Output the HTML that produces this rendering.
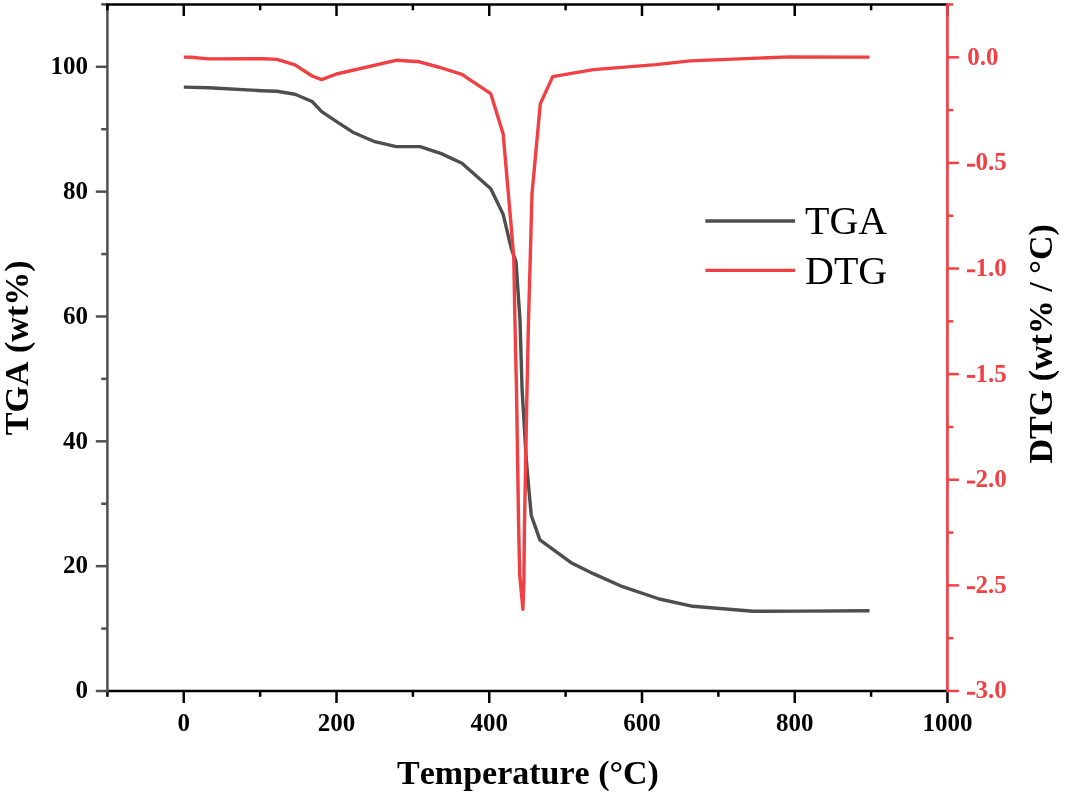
<!DOCTYPE html>
<html><head><meta charset="utf-8"><style>
html,body{margin:0;padding:0;background:#fff;width:1065px;height:795px;overflow:hidden}
svg{display:block;will-change:transform}
text{font-family:"Liberation Serif",serif;font-kerning:none}
.tl{font-size:25px;font-weight:bold}
.tt{font-size:34px;font-weight:bold}
.lg{font-size:40px}
</style></head><body>
<svg width="1065" height="795" viewBox="0 0 1065 795">
<rect width="1065" height="795" fill="#fff"/>
<line x1="107.4" y1="691.0" x2="947.45" y2="691.0" stroke="#000" stroke-width="2.5"/>
<line x1="107.40" y1="691.0" x2="107.40" y2="696.8" stroke="#000" stroke-width="2.5"/>
<line x1="183.77" y1="691.0" x2="183.77" y2="703.0" stroke="#000" stroke-width="2.5"/>
<text x="183.77" y="731.0" text-anchor="middle" class="tl">0</text>
<line x1="260.14" y1="691.0" x2="260.14" y2="696.8" stroke="#000" stroke-width="2.5"/>
<line x1="336.51" y1="691.0" x2="336.51" y2="703.0" stroke="#000" stroke-width="2.5"/>
<text x="336.51" y="731.0" text-anchor="middle" class="tl">200</text>
<line x1="412.88" y1="691.0" x2="412.88" y2="696.8" stroke="#000" stroke-width="2.5"/>
<line x1="489.25" y1="691.0" x2="489.25" y2="703.0" stroke="#000" stroke-width="2.5"/>
<text x="489.25" y="731.0" text-anchor="middle" class="tl">400</text>
<line x1="565.62" y1="691.0" x2="565.62" y2="696.8" stroke="#000" stroke-width="2.5"/>
<line x1="641.99" y1="691.0" x2="641.99" y2="703.0" stroke="#000" stroke-width="2.5"/>
<text x="641.99" y="731.0" text-anchor="middle" class="tl">600</text>
<line x1="718.36" y1="691.0" x2="718.36" y2="696.8" stroke="#000" stroke-width="2.5"/>
<line x1="794.73" y1="691.0" x2="794.73" y2="703.0" stroke="#000" stroke-width="2.5"/>
<text x="794.73" y="731.0" text-anchor="middle" class="tl">800</text>
<line x1="871.10" y1="691.0" x2="871.10" y2="696.8" stroke="#000" stroke-width="2.5"/>
<line x1="947.47" y1="691.0" x2="947.47" y2="703.0" stroke="#000" stroke-width="2.5"/>
<text x="947.47" y="731.0" text-anchor="middle" class="tl">1000</text>
<line x1="107.4" y1="4.5" x2="107.4" y2="692.25" stroke="#505050" stroke-width="2.5"/>
<line x1="95.8" y1="691.00" x2="107.4" y2="691.00" stroke="#505050" stroke-width="2.5"/>
<text x="88.0" y="698.2" text-anchor="end" class="tl">0</text>
<line x1="101.2" y1="628.58" x2="107.4" y2="628.58" stroke="#505050" stroke-width="2.5"/>
<line x1="95.8" y1="566.16" x2="107.4" y2="566.16" stroke="#505050" stroke-width="2.5"/>
<text x="88.0" y="573.4" text-anchor="end" class="tl">20</text>
<line x1="101.2" y1="503.74" x2="107.4" y2="503.74" stroke="#505050" stroke-width="2.5"/>
<line x1="95.8" y1="441.32" x2="107.4" y2="441.32" stroke="#505050" stroke-width="2.5"/>
<text x="88.0" y="448.5" text-anchor="end" class="tl">40</text>
<line x1="101.2" y1="378.90" x2="107.4" y2="378.90" stroke="#505050" stroke-width="2.5"/>
<line x1="95.8" y1="316.48" x2="107.4" y2="316.48" stroke="#505050" stroke-width="2.5"/>
<text x="88.0" y="323.7" text-anchor="end" class="tl">60</text>
<line x1="101.2" y1="254.06" x2="107.4" y2="254.06" stroke="#505050" stroke-width="2.5"/>
<line x1="95.8" y1="191.64" x2="107.4" y2="191.64" stroke="#505050" stroke-width="2.5"/>
<text x="88.0" y="198.8" text-anchor="end" class="tl">80</text>
<line x1="101.2" y1="129.22" x2="107.4" y2="129.22" stroke="#505050" stroke-width="2.5"/>
<line x1="95.8" y1="66.80" x2="107.4" y2="66.80" stroke="#505050" stroke-width="2.5"/>
<text x="88.0" y="74.0" text-anchor="end" class="tl">100</text>
<line x1="101.2" y1="4.38" x2="107.4" y2="4.38" stroke="#505050" stroke-width="2.5"/>
<line x1="106.15" y1="4.5" x2="947.45" y2="4.5" stroke="#000" stroke-width="2.5"/>
<line x1="107.40" y1="4.5" x2="107.40" y2="10.3" stroke="#000" stroke-width="2.5"/>
<line x1="183.77" y1="4.5" x2="183.77" y2="16.0" stroke="#000" stroke-width="2.5"/>
<line x1="260.14" y1="4.5" x2="260.14" y2="10.3" stroke="#000" stroke-width="2.5"/>
<line x1="336.51" y1="4.5" x2="336.51" y2="16.0" stroke="#000" stroke-width="2.5"/>
<line x1="412.88" y1="4.5" x2="412.88" y2="10.3" stroke="#000" stroke-width="2.5"/>
<line x1="489.25" y1="4.5" x2="489.25" y2="16.0" stroke="#000" stroke-width="2.5"/>
<line x1="565.62" y1="4.5" x2="565.62" y2="10.3" stroke="#000" stroke-width="2.5"/>
<line x1="641.99" y1="4.5" x2="641.99" y2="16.0" stroke="#000" stroke-width="2.5"/>
<line x1="718.36" y1="4.5" x2="718.36" y2="10.3" stroke="#000" stroke-width="2.5"/>
<line x1="794.73" y1="4.5" x2="794.73" y2="16.0" stroke="#000" stroke-width="2.5"/>
<line x1="871.10" y1="4.5" x2="871.10" y2="10.3" stroke="#000" stroke-width="2.5"/>
<line x1="947.47" y1="4.5" x2="947.47" y2="16.0" stroke="#000" stroke-width="2.5"/>
<line x1="947.45" y1="3.25" x2="947.45" y2="692.25" stroke="#f04044" stroke-width="2.7"/>
<line x1="947.45" y1="691.00" x2="958.9" y2="691.00" stroke="#f04044" stroke-width="2.5"/>
<rect x="967.0" y="691.85" width="8.1" height="2.9" fill="#f04044"/>
<text x="975.6" y="698.3" class="tl" fill="#f04044">3.0</text>
<line x1="947.45" y1="638.19" x2="953.2" y2="638.19" stroke="#f04044" stroke-width="2.5"/>
<line x1="947.45" y1="585.38" x2="958.9" y2="585.38" stroke="#f04044" stroke-width="2.5"/>
<rect x="967.0" y="586.23" width="8.1" height="2.9" fill="#f04044"/>
<text x="975.6" y="592.7" class="tl" fill="#f04044">2.5</text>
<line x1="947.45" y1="532.58" x2="953.2" y2="532.58" stroke="#f04044" stroke-width="2.5"/>
<line x1="947.45" y1="479.77" x2="958.9" y2="479.77" stroke="#f04044" stroke-width="2.5"/>
<rect x="967.0" y="480.62" width="8.1" height="2.9" fill="#f04044"/>
<text x="975.6" y="487.1" class="tl" fill="#f04044">2.0</text>
<line x1="947.45" y1="426.96" x2="953.2" y2="426.96" stroke="#f04044" stroke-width="2.5"/>
<line x1="947.45" y1="374.15" x2="958.9" y2="374.15" stroke="#f04044" stroke-width="2.5"/>
<rect x="967.0" y="375.00" width="8.1" height="2.9" fill="#f04044"/>
<text x="975.6" y="381.5" class="tl" fill="#f04044">1.5</text>
<line x1="947.45" y1="321.34" x2="953.2" y2="321.34" stroke="#f04044" stroke-width="2.5"/>
<line x1="947.45" y1="268.53" x2="958.9" y2="268.53" stroke="#f04044" stroke-width="2.5"/>
<rect x="967.0" y="269.38" width="8.1" height="2.9" fill="#f04044"/>
<text x="975.6" y="275.8" class="tl" fill="#f04044">1.0</text>
<line x1="947.45" y1="215.73" x2="953.2" y2="215.73" stroke="#f04044" stroke-width="2.5"/>
<line x1="947.45" y1="162.92" x2="958.9" y2="162.92" stroke="#f04044" stroke-width="2.5"/>
<rect x="967.0" y="163.77" width="8.1" height="2.9" fill="#f04044"/>
<text x="975.6" y="170.2" class="tl" fill="#f04044">0.5</text>
<line x1="947.45" y1="110.11" x2="953.2" y2="110.11" stroke="#f04044" stroke-width="2.5"/>
<line x1="947.45" y1="57.30" x2="958.9" y2="57.30" stroke="#f04044" stroke-width="2.5"/>
<text x="967.2" y="64.6" class="tl" fill="#f04044">0.0</text>
<line x1="947.45" y1="4.49" x2="953.2" y2="4.49" stroke="#f04044" stroke-width="2.5"/>
<polyline points="183.8,87.1 208.8,87.8 261.2,90.7 277.0,91.3 295.0,94.3 312.1,101.5 321.7,111.7 337.0,121.8 352.8,132.2 374.8,141.7 396.2,146.6 420.0,146.6 441.3,153.6 462.0,163.3 490.8,188.7 503.1,214.2 511.5,249.3 516.0,261.7 520.0,320.0 522.1,390.0 526.1,457.0 528.8,488.7 531.3,515.5 539.9,539.9 570.7,562.4 593.8,573.9 622.6,586.7 659.3,599.0 692.8,606.3 753.2,611.3 802.1,611.1 869.5,610.8" fill="none" stroke="#4e4e4e" stroke-width="3.4" stroke-linejoin="round" stroke-linecap="butt"/>
<polyline points="183.8,57.1 191.0,57.2 208.4,58.9 264.0,58.7 277.0,59.4 295.0,64.8 312.1,76.0 321.7,79.7 336.5,74.0 397.0,60.2 419.3,61.8 440.0,67.5 461.9,74.3 490.7,93.6 503.2,134.1 507.6,185.0 511.5,230.0 513.8,258.3 514.9,320.0 516.5,390.0 518.7,530.0 519.7,575.0 522.9,609.2 523.9,580.0 524.4,530.0 527.0,390.0 528.5,320.0 530.2,260.0 532.0,194.0 540.3,103.9 552.7,76.6 593.4,69.6 656.0,64.6 690.0,60.9 789.2,56.9 869.5,57.1" fill="none" stroke="#f04044" stroke-width="3.4" stroke-linejoin="round" stroke-linecap="butt"/>
<line x1="705.4" y1="221" x2="795.1" y2="221" stroke="#4e4e4e" stroke-width="3.3"/>
<line x1="705.4" y1="270.3" x2="795.1" y2="270.3" stroke="#f04044" stroke-width="3.3"/>
<text x="805" y="233.8" class="lg">TGA</text>
<text x="805" y="283.7" class="lg">DTG</text>
<text x="528" y="784" text-anchor="middle" class="tt">Temperature (°C)</text>
<text transform="translate(28.2,347.8) rotate(-90)" text-anchor="middle" class="tt">TGA (wt%)</text>
<text transform="translate(1052,343.9) rotate(-90)" text-anchor="middle" class="tt">DTG (wt% / °C)</text>
</svg>
</body></html>
